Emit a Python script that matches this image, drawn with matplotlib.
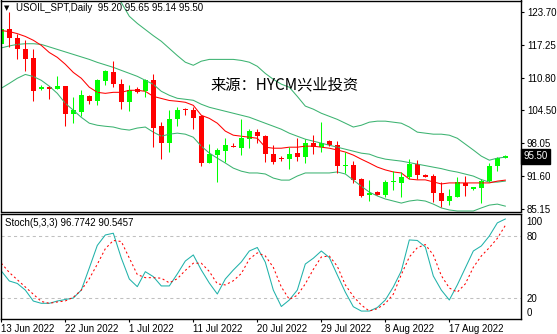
import numpy as np
import matplotlib
matplotlib.use('Agg')
import matplotlib.pyplot as plt
import matplotlib.transforms as mtrans

plt.rcParams['font.family'] = ['Liberation Sans', 'DejaVu Sans']

# daily candles, USOIL_SPT
opens = [117.5, 120.5, 118.7, 116.5, 114.65, 108.6, 109.05, 108.65, 109.2, 103.8,
         104.15, 107.2, 106.3, 110.2, 111.97, 109.7, 106.1, 108.65, 108.26, 110.35,
         101.4, 98.1, 102.7, 104.65, 104.5, 103.3, 94.2, 95.7, 96.53, 97.5,
         97.1, 98.95, 100.25, 99.4, 96.0, 95.2, 94.85, 96.2, 95.35, 98.1,
         97.3, 98.5, 97.65, 93.55, 93.75, 91.05, 87.9, 88.5, 87.9, 90.5,
         90.3, 91.35, 93.9, 91.75, 91.6, 88.3, 86.76, 87.55, 90.15, 89.1,
         89.3, 90.65, 93.55, 95.20]
highs = [122.4, 123.7, 119.5, 118.2, 116.5, 109.4, 109.2, 111.1, 109.2, 107.0,
         108.5, 107.55, 110.55, 112.4, 114.06, 110.55, 109.4, 109.0, 110.7, 111.5,
         102.1, 104.5, 105.1, 105.0, 105.1, 103.5, 97.8, 97.0, 99.07, 98.1,
         102.7, 100.9, 100.9, 99.7, 97.65, 95.5, 97.3, 99.07, 98.95, 99.7,
         102.1, 98.75, 98.45, 96.33, 94.6, 91.3, 90.8, 88.6, 90.9, 92.6,
         92.45, 94.85, 94.7, 91.95, 91.95, 90.4, 89.0, 91.45, 91.6, 89.5,
         91.1, 94.1, 95.4, 95.65]
lows = [117.4, 116.9, 114.6, 112.1, 106.3, 108.4, 106.7, 108.6, 101.4, 102.0,
        103.3, 105.8, 105.5, 109.4, 109.05, 104.8, 104.4, 107.9, 107.1, 97.3,
        94.9, 96.3, 101.4, 103.5, 100.9, 93.6, 94.07, 90.5, 94.4, 97.2,
        95.7, 97.0, 98.1, 94.4, 93.9, 94.6, 92.9, 94.6, 94.2, 96.0,
        96.33, 97.45, 92.2, 92.2, 90.3, 87.4, 86.76, 87.8, 87.4, 88.85,
        87.55, 91.0, 91.0, 91.35, 86.6, 85.5, 85.9, 87.4, 87.75, 88.85,
        86.3, 90.47, 92.6, 95.14]
closes = [120.46, 118.6, 116.5, 114.5, 108.26, 109.0, 108.7, 109.2, 103.8, 104.5,
          107.55, 106.3, 110.35, 112.1, 109.7, 106.1, 108.4, 108.06, 110.5, 101.0,
          98.1, 102.7, 104.5, 104.45, 103.0, 94.07, 95.9, 96.67, 97.64, 97.2,
          99.07, 100.4, 99.4, 96.0, 94.4, 94.9, 96.0, 95.35, 98.0, 97.3,
          98.1, 97.65, 93.6, 93.75, 90.8, 87.7, 88.2, 87.9, 90.4, 90.6,
          91.35, 93.9, 91.75, 91.45, 88.2, 86.76, 87.7, 90.4, 89.6, 89.5,
          90.65, 93.55, 95.1, 95.50]

# bands + moving averages
band_upper = [133.5, 133.3, 133.0, 132.7, 132.4, 132.1, 131.8, 131.5, 131.2, 130.9,
              130.6, 130.3, 130.0, 129.6, 127.9, 125.6, 122.9, 121.5, 120.3, 119.1,
              118.0, 116.6, 115.2, 113.9, 113.3, 114.1, 114.45, 114.45, 114.45, 114.45,
              114.25, 113.9, 113.1, 111.7, 110.55, 109.6, 109.0, 107.2, 105.3, 104.7,
              103.9, 103.3, 102.7, 101.95, 101.2, 101.55, 102.15, 102.35, 102.35, 102.15,
              101.95, 101.2, 100.2, 100.0, 99.8, 99.8, 99.6, 99.0, 97.85, 96.7,
              95.5, 94.7, 95.1, 95.3]
band_mid = [116.7, 117.09, 117.39, 117.52, 117.52, 117.39, 116.9, 116.41, 115.92, 115.43,
            114.94, 114.45, 113.87, 113.38, 112.89, 112.3, 111.72, 111.13, 110.35, 109.57,
            108.2, 107.42, 106.83, 106.64, 106.44, 105.66, 105.07, 104.68, 104.29, 103.9,
            103.51, 103.12, 102.53, 101.94, 101.36, 100.77, 99.99, 99.4, 98.82, 98.43,
            98.04, 97.64, 97.25, 96.86, 96.47, 96.08, 95.89, 95.3, 94.91, 94.71,
            94.52, 94.23, 93.93, 93.64, 93.34, 93.05, 92.66, 92.37, 91.98, 91.59,
            90.9, 90.41, 90.41, 90.61]
band_lower = [108.8, 109.75, 110.75, 111.5, 111.1, 110.35, 109.2, 107.8, 105.85, 104.5,
              103.1, 101.95, 101.55, 101.35, 101.2, 100.8, 100.6, 101.0, 101.2, 100.2,
              99.4, 99.8, 100.0, 99.8, 99.2, 97.45, 96.1, 95.1, 94.15, 93.15,
              92.55, 92.2, 92.2, 92.0, 91.2, 90.8, 90.8, 91.6, 92.2, 92.2,
              92.2, 92.2, 92.4, 92.0, 90.8, 89.6, 88.45, 87.7, 87.1, 86.7,
              86.3, 86.7, 86.9, 86.7, 86.1, 85.35, 84.95, 84.75, 84.75, 84.75,
              85.35, 85.9, 86.1, 85.7]
ma_red = [120.1, 119.9, 119.5, 118.95, 118.2, 117.2, 115.8, 114.85, 113.5, 111.9,
          110.75, 109.0, 108.0, 107.8, 108.0, 108.0, 108.4, 108.4, 108.2, 107.2,
          106.8, 106.4, 106.25, 106.05, 105.45, 103.5, 102.9, 101.95, 100.4, 99.6,
          99.4, 99.2, 99.0, 97.25, 97.05, 97.05, 97.25, 97.25, 97.45, 97.45,
          97.25, 97.05, 96.7, 96.3, 95.7, 94.9, 94.15, 93.35, 92.8, 92.4,
          92.2, 91.0, 90.85, 90.85, 90.45, 90.05, 90.25, 90.25, 90.25, 90.25,
          90.25, 90.25, 90.6, 90.8]

# Stoch(5,3,3)
stoch_k = [46.5, 36.8, 34.4, 28, 17.4, 15.2, 15.2, 17.4, 18.9, 20.3,
           28, 49.4, 71.2, 81.3, 83, 59, 38.7, 31.3, 45.8, 41,
           32, 32, 43.6, 56.1, 62, 47.4, 34.8, 24.2, 38.7, 47.4,
           55.2, 65.8, 69.2, 55, 28, 12.1, 18.4, 28, 53.2, 58.8,
           65.8, 59.5, 42.6, 26, 11.9, 7.7, 7.7, 11.1, 18.4, 31,
           46.5, 76.5, 76, 69.7, 41.6, 28, 18.4, 33, 49.4, 65.8,
           70.7, 80.3, 93, 96.7742]
stoch_d = [54, 45, 38, 31, 24, 17, 15.2, 16.5, 17.5, 21,
           28, 39, 53, 68, 76, 75, 59, 43, 40, 40,
           39.5, 35, 39, 47, 54, 54, 46, 34, 33, 37,
           44, 58, 64, 61, 50, 31, 19, 23, 34, 48,
           60, 61, 51, 33, 22, 13.5, 7.7, 10, 15, 24,
           43, 60, 69, 72, 62, 42, 30, 26, 34, 50,
           61, 69, 78, 90.5457]

price_ticks = [123.70, 117.25, 110.80, 104.50, 98.05, 91.60, 85.15]
date_labels = ['13 Jun 2022', '22 Jun 2022', '1 Jul 2022', '11 Jul 2022',
               '20 Jul 2022', '29 Jul 2022', '8 Aug 2022', '17 Aug 2022']
date_bars = [0, 8, 16, 24, 32, 40, 48, 56]

W, H = 557, 334
LW = 0.75  # ~1 px at 100 dpi
fig = plt.figure(figsize=(W / 100, H / 100), dpi=100)
fig.patch.set_facecolor('white')

ax = fig.add_axes([0.5 / W, 1 - 211.5 / H, 520.5 / W, 211 / H])
ax2 = fig.add_axes([0.5 / W, 1 - 318.5 / H, 520.5 / W, 104.5 / H])

x = np.arange(len(closes))
o = np.array(opens); c = np.array(closes)
up = c >= o
cols = np.where(up, '#00ff00', '#ff0000')

ax.plot(x, band_upper, color='#3cb371', lw=LW)
ax.plot(x, band_mid, color='#3cb371', lw=LW)
ax.plot(x, band_lower, color='#3cb371', lw=LW)
ax.plot(x, ma_red, color='#ff0000', lw=LW)

ax.vlines(x, lows, highs, colors=cols, lw=LW)
body_h = np.maximum(np.abs(c - o), 0.18)
ax.bar(x, body_h, bottom=np.minimum(o, c), width=0.62, color=cols, linewidth=0)

ax.set_xlim(-0.1, 64.96)
ax.set_ylim(84.65, 125.99)
ax.set_xticks([])
ax.yaxis.tick_right()
ax.set_yticks(price_ticks)
ax.set_yticklabels(['%.2f' % t for t in price_ticks])
ax.tick_params(axis='y', direction='out', length=2.2, width=0.8, labelsize=7, pad=2)

tr = mtrans.blended_transform_factory(ax.transAxes, ax.transData)
ax.text(1.004, closes[-1], '%.2f' % closes[-1], transform=tr, color='white', fontsize=7,
        va='center', ha='left',
        bbox=dict(facecolor='black', edgecolor='black', boxstyle='square,pad=0.25'))

# stochastic panel
ax2.axhline(80, color='#c0c0c0', lw=LW, ls=(0, (3, 3)))
ax2.axhline(20, color='#c0c0c0', lw=LW, ls=(0, (3, 3)))
ax2.plot(x, stoch_k, color='#20b2aa', lw=LW)
ax2.plot(x, stoch_d, color='#ff0000', lw=LW, ls=(0, (2, 2.5)))
ax2.set_xlim(-0.1, 64.96)
ax2.set_ylim(0.5, 101.6)
ax2.yaxis.tick_right()
ax2.set_yticks([94.5, 80, 20, 6.5])
ax2.set_yticklabels(['100', '80', '20', '0'])
ax2.tick_params(axis='y', length=0, labelsize=7, pad=4)
ax2.set_xticks(date_bars)
ax2.set_xticklabels(date_labels, ha='left')
ax2.tick_params(axis='x', direction='out', length=2.2, width=0.8, labelsize=7, pad=1.5)

for a in (ax, ax2):
    for s in a.spines.values():
        s.set_color('black')
        s.set_linewidth(1)

fig.text(4 / W, 1 - 8.5 / H, '▼', fontsize=5, va='center', ha='left', family='DejaVu Sans')
fig.text(16 / W, 1 - 8 / H, 'USOIL_SPT,Daily  95.20 95.65 95.14 95.50', fontsize=7, va='center')
fig.text(5 / W, 1 - 223.5 / H, 'Stoch(5,3,3) 96.7742 90.5457', fontsize=7, va='center')
fig.text(210 / W, 1 - 84.5 / H, '来源：HYCM兴业投资', fontsize=11, va='center',
         family=['Noto Sans CJK SC', 'DejaVu Sans'])

fig.savefig('out.png', dpi=100)
